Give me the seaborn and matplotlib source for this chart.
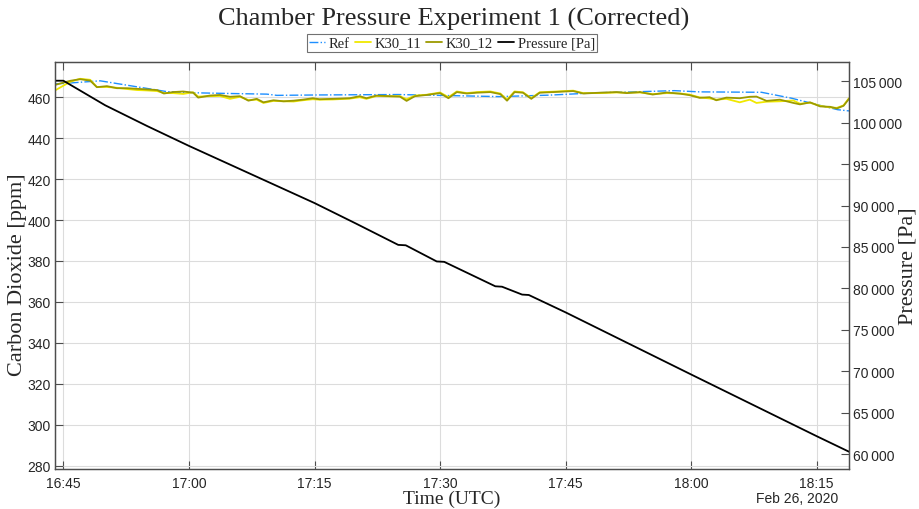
'''
Chamber pressure experiment: CO2 sensors vs reference and chamber pressure
'''
import matplotlib
matplotlib.use("Agg")
import matplotlib.pyplot as plt
import matplotlib.dates as mdates
import matplotlib.ticker as mticker
import seaborn as sns
import pandas as pd

# time offsets are minutes after 16:45 UTC, Feb 26 2020
k30_min = [-1, 0.8, 2, 3.2, 4, 5.2, 6.4, 7.6, 8.8, 10, 11.2, 12, 13.1, 14.3, 15.5,
           16.1, 17.5, 18.7, 19.9, 21.1, 22.1, 23.1, 23.9, 25.1, 26.3, 27.5, 28.6,
           29.8, 30.6, 32.2, 34.2, 35.4, 36.2, 37.4, 39.0, 40.2, 41.0, 42.0, 43.4,
           45.0, 46.0, 47.0, 48.2, 49.4, 51.0, 52.2, 53.0, 53.9, 54.9, 55.9, 56.9,
           58.5, 60.9, 62.1, 64.1, 66.1, 67.3, 68.9, 70.4, 72.1, 73.7, 74.8, 76.0,
           77.2, 78.0, 79.2, 80.8, 82.0, 82.8, 84.0, 85.6, 87.2, 88.0, 89.2, 90.4,
           91.6, 92.4, 93.2, 93.85]

k30_11 = [463.3, 467.5, 469.0, 468.5, 465.0, 465.0, 464.6, 464.0, 463.5, 463.3,
          463.0, 462.0, 462.0, 461.6, 462.4, 460.3, 460.5, 460.6, 459.2, 460.2,
          458.6, 458.8, 457.2, 458.2, 458.0, 457.9, 458.5, 459.0, 458.8, 458.9,
          459.3, 460.0, 459.2, 460.6, 460.4, 460.5, 459.0, 460.8, 461.2, 462.3,
          460.0, 462.8, 462.0, 462.5, 462.8, 461.8, 458.8, 462.8, 462.4, 459.6,
          462.4, 462.7, 463.2, 462.0, 462.0, 462.3, 462.2, 462.3, 461.5, 462.0,
          461.8, 461.3, 459.9, 459.4, 458.8, 459.2, 457.5, 458.8, 457.2, 457.8,
          458.0, 458.4, 456.8, 457.3, 455.8, 455.0, 454.8, 456.0, 459.5]

k30_12 = [466.0, 468.0, 468.8, 468.1, 464.9, 465.4, 464.4, 464.4, 464.1, 463.8,
          463.5, 461.8, 462.5, 462.8, 462.2, 459.8, 460.8, 461.1, 460.2, 460.5,
          458.3, 459.2, 457.5, 458.5, 458.0, 458.3, 458.8, 459.5, 459.0, 459.2,
          459.5, 460.5, 459.5, 460.8, 460.5, 460.3, 458.2, 460.5, 461.1, 462.0,
          459.5, 462.5, 461.8, 462.2, 462.5, 461.5, 458.3, 462.5, 462.2, 459.2,
          462.2, 462.5, 463.0, 461.8, 462.2, 462.5, 462.0, 462.5, 461.3, 462.3,
          461.7, 461.0, 459.7, 460.0, 458.5, 459.8, 459.5, 460.2, 460.3, 458.2,
          458.8, 457.2, 456.5, 457.5, 455.5, 455.3, 454.5, 455.8, 459.2]

ref_min = [-1, 1, 4.4, 8.3, 12.4, 16.3, 20, 24.3, 25.5, 30.6, 40, 46, 52, 58,
           64, 68, 73, 76, 83.4, 87.0, 89.7, 92.5, 93.85]
ref_ppm = [466.5, 467.0, 468.0, 465.4, 462.7, 462.1, 461.8, 461.5, 460.9, 461.1,
           461.3, 460.8, 460.3, 461.0, 462.2, 462.6, 463.2, 462.6, 462.4, 459.5,
           456.7, 453.9, 453.3]

pres_min = [-1, 0, 5, 10, 15, 20, 25, 30, 35, 40.0, 40.9, 44.6, 45.5, 51.6,
            52.4, 54.8, 55.6, 60, 75, 90, 93.85]
pres_pa = [105070, 105070, 102100, 99600, 97200, 94900, 92600, 90300, 87800,
           85250, 85200, 83250, 83200, 80250, 80200, 79250, 79200, 77100, 69600,
           62150, 60280]

START = pd.Timestamp("2020-02-26 16:45:00")
SERIF = 'Liberation Serif'
EDGE = '#4d4d4d'
TXT = '#262626'


def to_time(minutes):
    '''minutes after 16:45 -> timestamps'''
    return START + pd.to_timedelta(minutes, unit="min")


sns.set_theme(style="white")
plt.rcParams['font.family'] = ['Liberation Sans', 'DejaVu Sans']

fig, ax = plt.subplots(figsize=(9.2, 5.1), dpi=100)
fig.subplots_adjust(left=0.0598, right=0.9228, bottom=0.0784, top=0.8765)
ax2 = ax.twinx()

sns.lineplot(x=to_time(ref_min), y=ref_ppm, ax=ax, color='#1e8fff', linestyle='-.',
             linewidth=1.0, label='Ref', legend=False)
sns.lineplot(x=to_time(k30_min), y=k30_11, ax=ax, color='#f0e800', linewidth=1.3,
             label='K30_11', legend=False)
sns.lineplot(x=to_time(k30_min), y=k30_12, ax=ax, color='#9c9a00', linewidth=1.3,
             label='K30_12', legend=False)
sns.lineplot(x=to_time(pres_min), y=pres_pa, ax=ax2, color='black', linewidth=1.3,
             label='Pressure [Pa]', legend=False)

# axes limits / ticks
ax.set_xlim(to_time(-1.0), to_time(93.85))
ax.set_ylim(278.4, 477.2)
ax2.set_ylim(58190, 107330)
ax.set_yticks(range(280, 461, 20))
ax2.set_yticks(range(60000, 105001, 5000))
ax2.yaxis.set_major_formatter(mticker.FuncFormatter(
    lambda v, p: '{:,}'.format(int(v)).replace(',', '\u2009')))
ax.xaxis.set_major_locator(mdates.MinuteLocator(byminute=[0, 15, 30, 45]))
ax.xaxis.set_major_formatter(mdates.DateFormatter('%H:%M'))

ax.grid(True, color='#dcdcdc', linewidth=0.8)
ax2.grid(False)
for a in (ax, ax2):
    for s in a.spines.values():
        s.set_color(EDGE)
        s.set_linewidth(0.9)
ax.tick_params(axis='both', direction='in', length=6, width=0.8, color=EDGE,
               labelsize=10, labelcolor=TXT, top=True, bottom=True, pad=5)
ax.tick_params(axis='y', pad=3)
ax2.tick_params(axis='y', direction='in', length=6, width=0.8, color=EDGE,
                labelsize=10, labelcolor=TXT, pad=3)

# labels
ax.set_xlabel('Time (UTC)', family=SERIF, fontsize=14, color=TXT)
ax.xaxis.set_label_coords(0.5, -0.05)
ax.set_ylabel('Carbon Dioxide [ppm]', family=SERIF, fontsize=16, color=TXT)
ax.yaxis.set_label_coords(-0.035, 0.48)
ax2.set_ylabel('Pressure [Pa]', family=SERIF, fontsize=16, color=TXT)
ax2.yaxis.set_label_coords(1.063, 0.5)
fig.text(454 / 920, 1 - 19 / 510, 'Chamber Pressure Experiment 1 (Corrected)', family=SERIF,
         fontsize=19, color=TXT, ha='center', va='center')
fig.text(838 / 920, 1 - 499 / 510, 'Feb 26, 2020', fontsize=10, color=TXT,
         ha='right', va='center')

handles = ax.get_lines()[:3] + ax2.get_lines()[:1]
leg = fig.legend(handles, [h.get_label() for h in handles], loc='center',
                 bbox_to_anchor=(452 / 920, 1 - 44 / 510), ncol=4,
                 prop={'family': SERIF, 'size': 10.5}, frameon=True, fancybox=False,
                 edgecolor=EDGE, handlelength=1.1, handletextpad=0.25,
                 columnspacing=0.35, borderpad=0.15, borderaxespad=0)
leg.get_frame().set_linewidth(0.8)

fig.savefig('out.png', dpi=100)
